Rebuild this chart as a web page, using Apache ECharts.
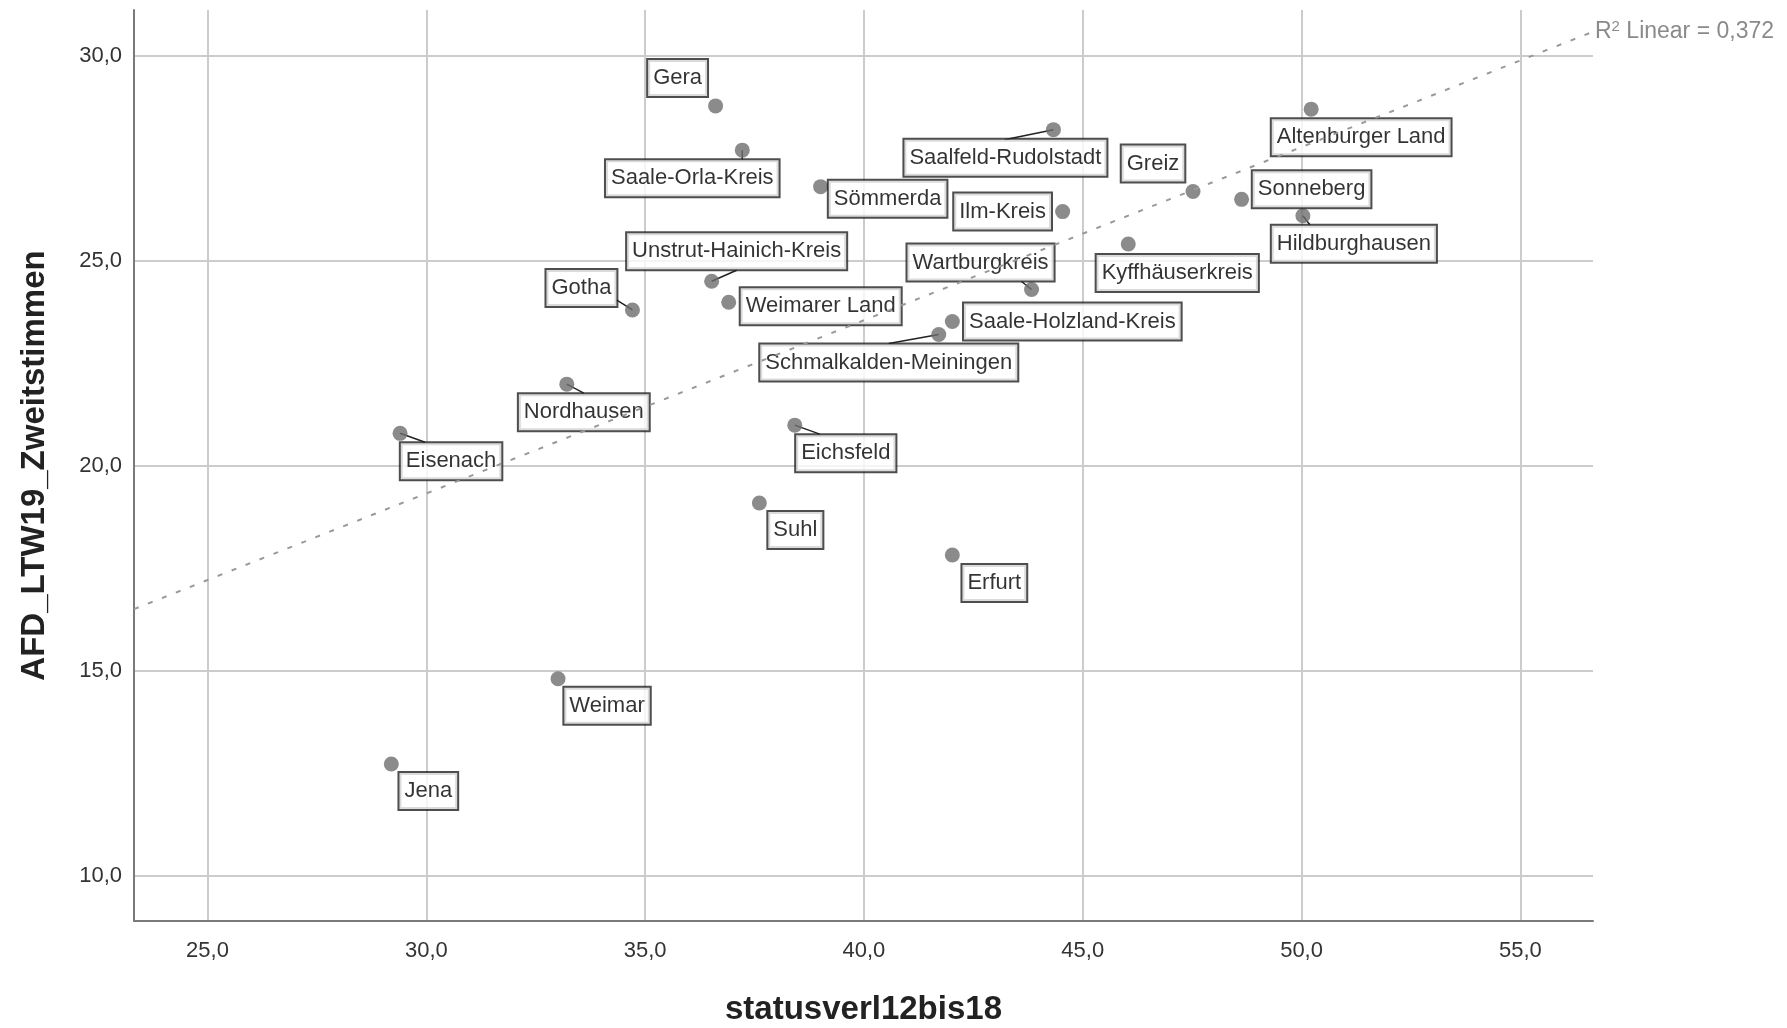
<!DOCTYPE html>
<html><head><meta charset="utf-8">
<script src="https://cdn.jsdelivr.net/npm/echarts@6/dist/echarts.min.js"></script>
<style>html,body{margin:0;padding:0;background:#fff}#c{width:1787px;height:1028px}</style>
</head><body><div id="c"></div>
<script>
const names = ['Gera','Saale-Orla-Kreis','Sömmerda','Saalfeld-Rudolstadt','Greiz','Ilm-Kreis','Altenburger Land','Sonneberg','Hildburghausen','Kyffhäuserkreis','Wartburgkreis','Unstrut-Hainich-Kreis','Gotha','Weimarer Land','Saale-Holzland-Kreis','Schmalkalden-Meiningen','Nordhausen','Eisenach','Eichsfeld','Suhl','Erfurt','Weimar','Jena'];
const xValues = [36.61,37.22,39.01,44.33,47.52,44.54,50.22,48.63,50.03,46.04,43.83,36.52,34.71,36.91,42.02,41.71,33.21,29.40,38.42,37.61,42.02,33.01,29.20];
const yValues = [28.78,27.70,26.81,28.20,26.69,26.20,28.70,26.50,26.10,25.41,24.30,24.50,23.80,23.99,23.52,23.20,21.99,20.79,20.99,19.09,17.82,14.80,12.72];
const xTicks = [25,30,35,40,45,50,55];
const yTicks = [10,15,20,25,30];
const trendX = [23.32, 56.66];
const trendY = [16.50, 30.59];
const r2Value = '0,372';
const xName = 'statusverl12bis18';
const yName = 'AFD_LTW19_Zweitstimmen';

// layout: label box centre offsets from each point (px)
const labelOffsets = [[-38,-28],[-50,28],[67,12],[-48,28],[-40,-28],[-60,0],[50,28],[70,-10],[51,28],[49,29],[-51,-27],[25,-30],[-51,-22],[92,4],[120,0],[-50,28],[17,28],[51,28],[51,28],[36,27],[42,28],[49,27],[37,27]];
// layout: connector end (px from point) for labels that show a leader line: [index, dx, dy]
const connectors = [[3,-49,10],[15,-50,9],[11,25,-11],[12,-16,-10],[16,17,9],[17,25,9],[18,25,9],[1,0,9],[10,-10,-8],[8,7,9]];

const FONT = "'Liberation Sans', Arial, sans-serif";
const fmt = v => Number(v).toFixed(1).replace('.', ',');

const chart = echarts.init(document.getElementById('c'), null, {renderer: 'canvas'});
chart.setOption({
  animation: false,
  backgroundColor: '#ffffff',
  grid: {left: 134, right: 194, top: 10, bottom: 107, containLabel: false, outerBoundsMode: 'none'},
  xAxis: {
    type: 'value', min: trendX[0], max: trendX[1],
    name: xName, nameLocation: 'middle', nameGap: 72,
    nameTextStyle: {fontFamily: FONT, fontSize: 33, fontWeight: 'bold', color: '#222'},
    axisLine: {show: true, onZero: false, lineStyle: {color: '#7a7a7a', width: 2}},
    axisTick: {show: false, customValues: xTicks},
    axisLabel: {customValues: xTicks, formatter: fmt, margin: 19, fontFamily: FONT, fontSize: 22, color: '#333'},
    splitLine: {show: true, lineStyle: {color: '#cccccc', width: 2}}
  },
  yAxis: {
    type: 'value', min: 8.89, max: 31.12,
    name: yName, nameLocation: 'middle', nameGap: 83,
    nameTextStyle: {fontFamily: FONT, fontSize: 33, fontWeight: 'bold', color: '#222'},
    axisLine: {show: true, onZero: false, lineStyle: {color: '#7a7a7a', width: 2}},
    axisTick: {show: false, customValues: yTicks},
    axisLabel: {customValues: yTicks, formatter: fmt, margin: 12, fontFamily: FONT, fontSize: 22, color: '#333'},
    splitLine: {show: true, lineStyle: {color: '#cccccc', width: 2}}
  },
  series: [
    {
      type: 'custom', z: 2, silent: true,
      data: connectors.map(c => [xValues[c[0]], yValues[c[0]], c[1], c[2]]),
      renderItem: (params, api) => {
        const p = api.coord([api.value(0), api.value(1)]);
        return {
          type: 'line',
          shape: {x1: p[0], y1: p[1], x2: p[0] + api.value(2), y2: p[1] + api.value(3)},
          style: {stroke: '#222', lineWidth: 1.5}
        };
      }
    },
    {
      type: 'scatter', z: 3,
      symbol: 'circle', symbolSize: 15,
      itemStyle: {color: '#6e6e6e'},
      data: xValues.map((x, i) => ({value: [x, yValues[i]], name: names[i]})),
      label: {
        show: true, position: 'inside', formatter: p => p.name,
        fontFamily: FONT, fontSize: 22, lineHeight: 24, color: '#000',
        backgroundColor: '#ffffff', borderColor: '#222', borderWidth: 2,
        padding: [6, 5, 6, 5]
      },
      labelLayout: p => ({dx: labelOffsets[p.dataIndex][0], dy: labelOffsets[p.dataIndex][1]})
    },
    {
      type: 'line', z: 10, symbol: 'none', silent: true,
      data: trendX.map((x, i) => [x, trendY[i]]),
      lineStyle: {color: '#999999', width: 2, type: [5, 10]},
      endLabel: {
        show: true, distance: 2,
        formatter: '{a|R}{s|2}{a| Linear = ' + r2Value + '}',
        rich: {
          a: {fontFamily: FONT, fontSize: 23, color: '#8a8a8a'},
          s: {fontFamily: FONT, fontSize: 15, color: '#8a8a8a', verticalAlign: 'top', padding: [0, 0, 10, 0]}
        }
      }
    }
  ]
});
</script></body></html>
